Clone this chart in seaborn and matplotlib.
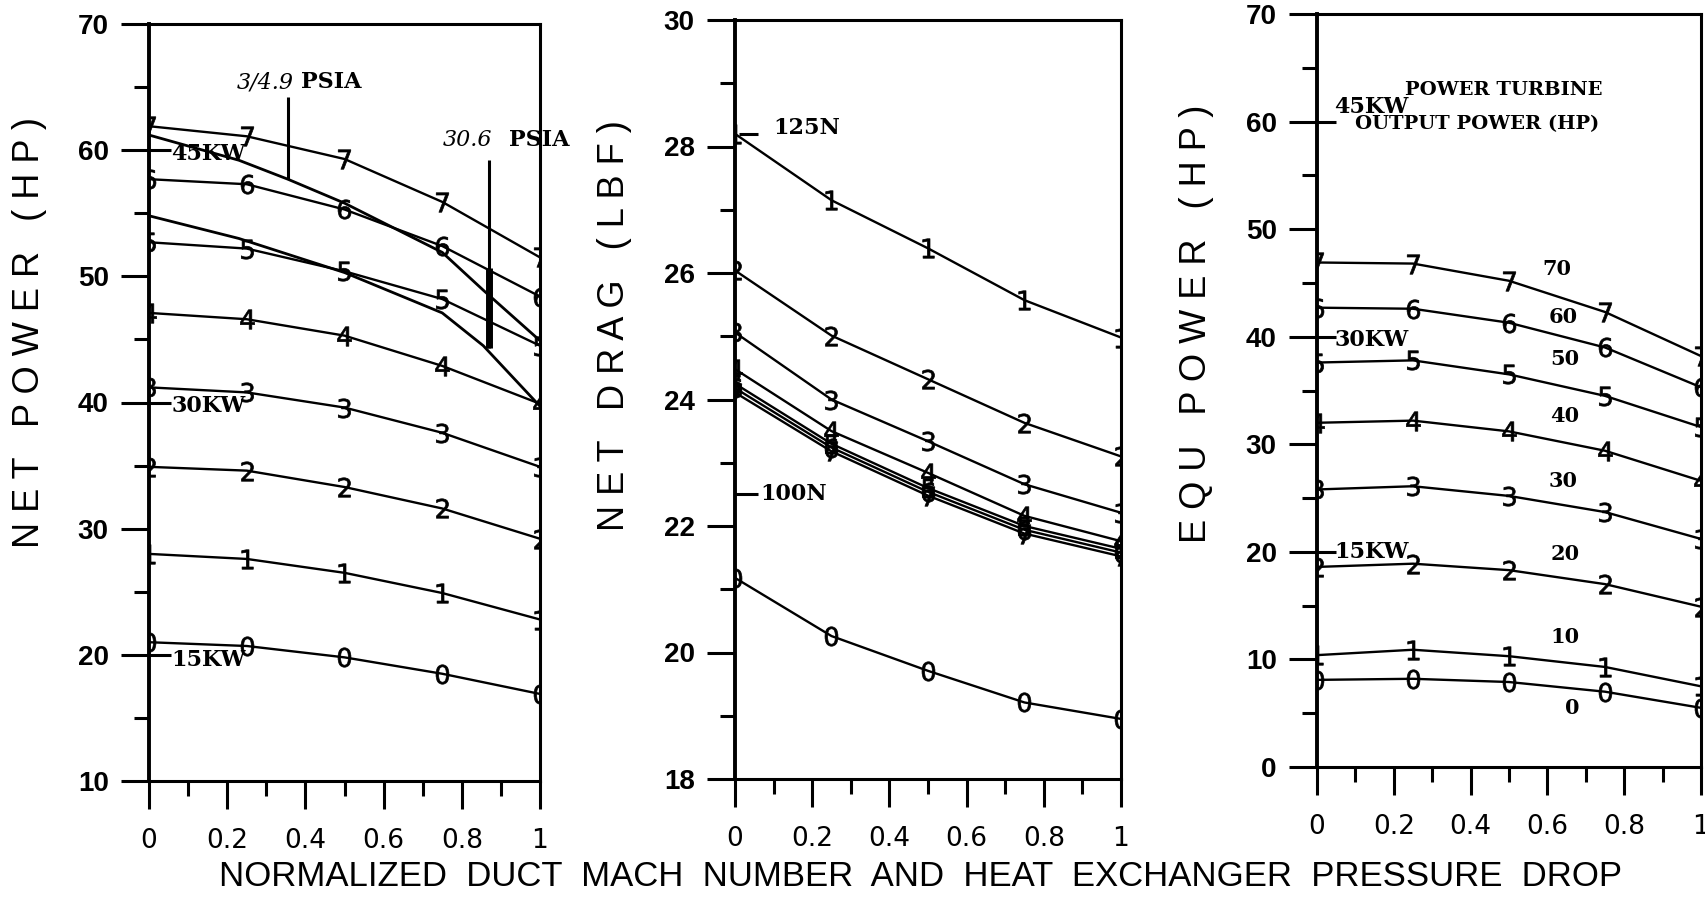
import matplotlib
matplotlib.use("Agg")
import matplotlib.pyplot as plt
import pandas as pd
import seaborn as sns
from matplotlib.ticker import MultipleLocator, FixedLocator, FixedFormatter

# ---------------- data ----------------
x_norm = [0.0, 0.25, 0.5, 0.75, 1.0]
x_tick_values = [0.0, 0.2, 0.4, 0.6, 0.8, 1.0]
x_tick_labels = ["0", "0.2", "0.4", "0.6", "0.8", "1"]

# panel 1 : net power (HP), curves labelled 0..7
net_power_0 = [21.0, 20.7, 19.8, 18.5, 16.9]
net_power_1 = [28.0, 27.6, 26.5, 24.9, 22.8]
net_power_2 = [34.9, 34.6, 33.3, 31.6, 29.2]
net_power_3 = [41.2, 40.8, 39.6, 37.6, 34.9]
net_power_4 = [47.1, 46.6, 45.3, 42.9, 39.9]
net_power_5 = [52.7, 52.2, 50.4, 48.2, 44.5]
net_power_6 = [57.7, 57.3, 55.3, 52.4, 48.4]
net_power_7 = [61.9, 61.1, 59.3, 55.9, 51.5]
net_power_ticks = ["10", "20", "30", "40", "50", "60", "70"]

psia_349_x = [0.0, 0.23, 0.355, 0.5, 0.75, 0.855, 1.0]
psia_349 = [61.2, 59.2, 57.7, 55.8, 51.9, 48.9, 44.9]
psia_306_x = [0.0, 0.23, 0.5, 0.75, 0.855, 1.0]
psia_306 = [54.8, 53.0, 50.3, 47.1, 44.5, 39.7]

# panel 2 : net drag (LBF)
drag_0 = [21.18, 20.26, 19.71, 19.21, 18.95]
drag_1 = [28.20, 27.15, 26.39, 25.57, 24.98]
drag_2 = [26.04, 25.01, 24.32, 23.63, 23.10]
drag_3 = [25.06, 24.00, 23.34, 22.66, 22.21]
drag_4 = [24.48, 23.50, 22.84, 22.16, 21.76]
drag_5 = [24.25, 23.30, 22.60, 22.00, 21.64]
drag_6 = [24.18, 23.24, 22.54, 21.94, 21.58]
drag_7 = [24.11, 23.18, 22.48, 21.88, 21.52]
drag_ticks = ["18", "20", "22", "24", "26", "28", "30"]

# panel 3 : equivalent power (HP)
equ_0 = [8.1, 8.2, 7.9, 7.0, 5.5]
equ_1 = [10.4, 10.9, 10.3, 9.3, 7.5]
equ_2 = [18.6, 18.9, 18.3, 17.0, 14.9]
equ_3 = [25.8, 26.1, 25.2, 23.7, 21.2]
equ_4 = [32.0, 32.2, 31.2, 29.4, 26.6]
equ_5 = [37.6, 37.8, 36.5, 34.5, 31.6]
equ_6 = [42.7, 42.6, 41.3, 39.0, 35.3]
equ_7 = [46.9, 46.8, 45.2, 42.3, 38.2]
equ_ticks = ["0", "10", "20", "30", "40", "50", "60", "70"]

turbine_hp_labels = ["70", "60", "50", "40", "30", "20", "10", "0"]
turbine_hp_y = [46.3, 41.8, 37.9, 32.6, 26.6, 19.8, 12.1, 5.5]
turbine_hp_x = [0.625, 0.64, 0.645, 0.645, 0.642, 0.645, 0.645, 0.665]

left_kw_labels = ["45KW", "30KW", "15KW"]
left_kw_levels = [60, 40, 20]
left_kw_text_y = [59.7, 39.7, 19.6]
drag_n_labels = ["125N", "100N"]
drag_n_levels = [28.2, 22.5]
right_kw_labels = ["45KW", "30KW", "15KW"]
right_kw_levels = [60, 40, 20]
right_kw_text_y = [61.4, 39.7, 20.0]

# ---------------- style ----------------
sns.set_style("ticks")
plt.rcParams["font.family"] = ["Liberation Sans", "DejaVu Sans"]
plt.rcParams["text.color"] = "black"
plt.rcParams["xtick.color"] = "black"
plt.rcParams["ytick.color"] = "black"
plt.rcParams["xtick.labelcolor"] = "black"
plt.rcParams["ytick.labelcolor"] = "black"

W, H = 1706, 911
fig = plt.figure(figsize=(W / 100, H / 100), dpi=100)
fig.patch.set_facecolor("white")


def rect(x0, x1, ytop, ybot):
    return [x0 / W, 1 - ybot / H, (x1 - x0) / W, (ybot - ytop) / H]


ax1 = fig.add_axes(rect(149, 540, 24, 781))
ax2 = fig.add_axes(rect(735, 1121, 20, 779))
ax3 = fig.add_axes(rect(1317, 1701, 14, 767))

SERIF_B = dict(family="DejaVu Serif", weight="bold", color="black")


def panel(ax, ids, series, ylim, ymin, yticklabels):
    frames = [pd.DataFrame({"x": x_norm, "value": v, "curve": c})
              for c, v in zip(ids, series)]
    df = pd.concat(frames, ignore_index=True)
    marks = {c: "$" + c[-1] + "$" for c in ids}
    sns.lineplot(data=df, x="x", y="value", style="curve", markers=marks,
                 dashes=False, color="black", lw=1.7, markersize=14,
                 mec="black", mew=0.5, estimator=None, errorbar=None,
                 legend=False, ax=ax)
    ax.set_xlim(0, 1)
    ax.set_ylim(*ylim)
    ax.xaxis.set_major_locator(FixedLocator(x_tick_values))
    ax.xaxis.set_major_formatter(FixedFormatter(x_tick_labels))
    ax.xaxis.set_minor_locator(MultipleLocator(0.1))
    ax.yaxis.set_major_locator(FixedLocator([float(t) for t in yticklabels]))
    ax.yaxis.set_major_formatter(FixedFormatter(yticklabels))
    ax.yaxis.set_minor_locator(MultipleLocator(ymin))
    ax.tick_params(which="major", direction="out", length=20, width=2.2,
                   labelsize=20, pad=9, top=False, right=False,
                   colors="black")
    ax.tick_params(axis="x", which="major", pad=14)
    ax.tick_params(which="minor", direction="out", length=11, width=2.2,
                   top=False, right=False, colors="black")
    for lab in ax.get_yticklabels():
        lab.set_fontweight("bold")
    for lab in ax.get_xticklabels():
        lab.set_family("DejaVu Sans")
        lab.set_fontsize(19)
    for s in ax.spines.values():
        s.set_visible(True)
        s.set_linewidth(2.2)
        s.set_color("black")
    ax.spines["left"].set_linewidth(2.8)
    ax.set_xlabel("")
    ax.set_ylabel("")


# ---- panel 1 ----
panel(ax1, ["p0", "p1", "p2", "p3", "p4", "p5", "p6", "p7"],
      [net_power_0, net_power_1, net_power_2, net_power_3, net_power_4,
       net_power_5, net_power_6, net_power_7],
      (10, 70), 5, net_power_ticks)
sns.lineplot(x=psia_349_x, y=psia_349, color="black", lw=2.0, ax=ax1,
             estimator=None, errorbar=None)
sns.lineplot(x=psia_306_x, y=psia_306, color="black", lw=2.0, ax=ax1,
             estimator=None, errorbar=None)
ax1.vlines(0.355, 57.7, 64.2, color="black", lw=2.2)
ax1.vlines(0.87, 44.3, 59.2, color="black", lw=2.2)
ax1.vlines(0.87, 44.3, 50.7, color="black", lw=5)
ax1.text(0.225, 65.4, "3/4.9", fontsize=16, family="DejaVu Serif",
         style="italic", va="center", ha="left")
ax1.text(0.39, 65.4, "PSIA", fontsize=16, va="center", ha="left", **SERIF_B)
ax1.text(0.75, 60.8, "30.6", fontsize=16, family="DejaVu Serif",
         style="italic", va="center", ha="left")
ax1.text(0.92, 60.8, "PSIA", fontsize=16, va="center", ha="left",
         clip_on=False, **SERIF_B)
ax1.hlines(left_kw_levels, 0, 0.055, color="black", lw=2.2)
for lab, ty in zip(left_kw_labels, left_kw_text_y):
    ax1.text(0.057, ty, lab, fontsize=16, va="center", ha="left", **SERIF_B)

# ---- panel 2 ----
panel(ax2, ["d0", "d1", "d2", "d3", "d4", "d5", "d6", "d7"],
      [drag_0, drag_1, drag_2, drag_3, drag_4, drag_5, drag_6, drag_7],
      (18, 30), 1, drag_ticks)
ax2.hlines(drag_n_levels, [0.01, 0.0], [0.06, 0.06], color="black", lw=2.2)
ax2.text(0.10, drag_n_levels[0] + 0.1, drag_n_labels[0], fontsize=16,
         va="center", ha="left", **SERIF_B)
ax2.text(0.066, drag_n_levels[1], drag_n_labels[1], fontsize=16,
         va="center", ha="left", **SERIF_B)

# ---- panel 3 ----
panel(ax3, ["e0", "e1", "e2", "e3", "e4", "e5", "e6", "e7"],
      [equ_0, equ_1, equ_2, equ_3, equ_4, equ_5, equ_6, equ_7],
      (0, 70), 5, equ_ticks)
ax3.hlines(right_kw_levels, 0, 0.05, color="black", lw=2.2)
for lab, ty in zip(right_kw_labels, right_kw_text_y):
    ax3.text(0.045, ty, lab, fontsize=16, va="center", ha="left", **SERIF_B)
ax3.text(0.23, 62.9, "POWER TURBINE", fontsize=14, va="center", ha="left",
         **SERIF_B)
ax3.text(0.10, 59.8, "OUTPUT POWER (HP)", fontsize=14, va="center",
         ha="left", **SERIF_B)
for lab, tx, ty in zip(turbine_hp_labels, turbine_hp_x, turbine_hp_y):
    ax3.text(tx, ty, lab, fontsize=15, va="center", ha="center", **SERIF_B)

# ---- axis titles ----
ylab_kw = dict(rotation=90, fontsize=26, ha="center", va="center",
               color="black")
fig.text(30 / W, 1 - 332 / H, "N E T   P O W E R   ( H P )", **ylab_kw)
fig.text(615 / W, 1 - 326 / H, "N E T   D R A G   ( L B F )", **ylab_kw)
fig.text(1197 / W, 1 - 324 / H, "E Q U   P O W E R   ( H P )", **ylab_kw)
fig.text(921 / W, 1 - 876 / H,
         "NORMALIZED  DUCT  MACH  NUMBER  AND  HEAT  EXCHANGER  PRESSURE  DROP",
         fontsize=25, ha="center", va="center", color="black")

fig.savefig("out.png", dpi=100, facecolor="white")
